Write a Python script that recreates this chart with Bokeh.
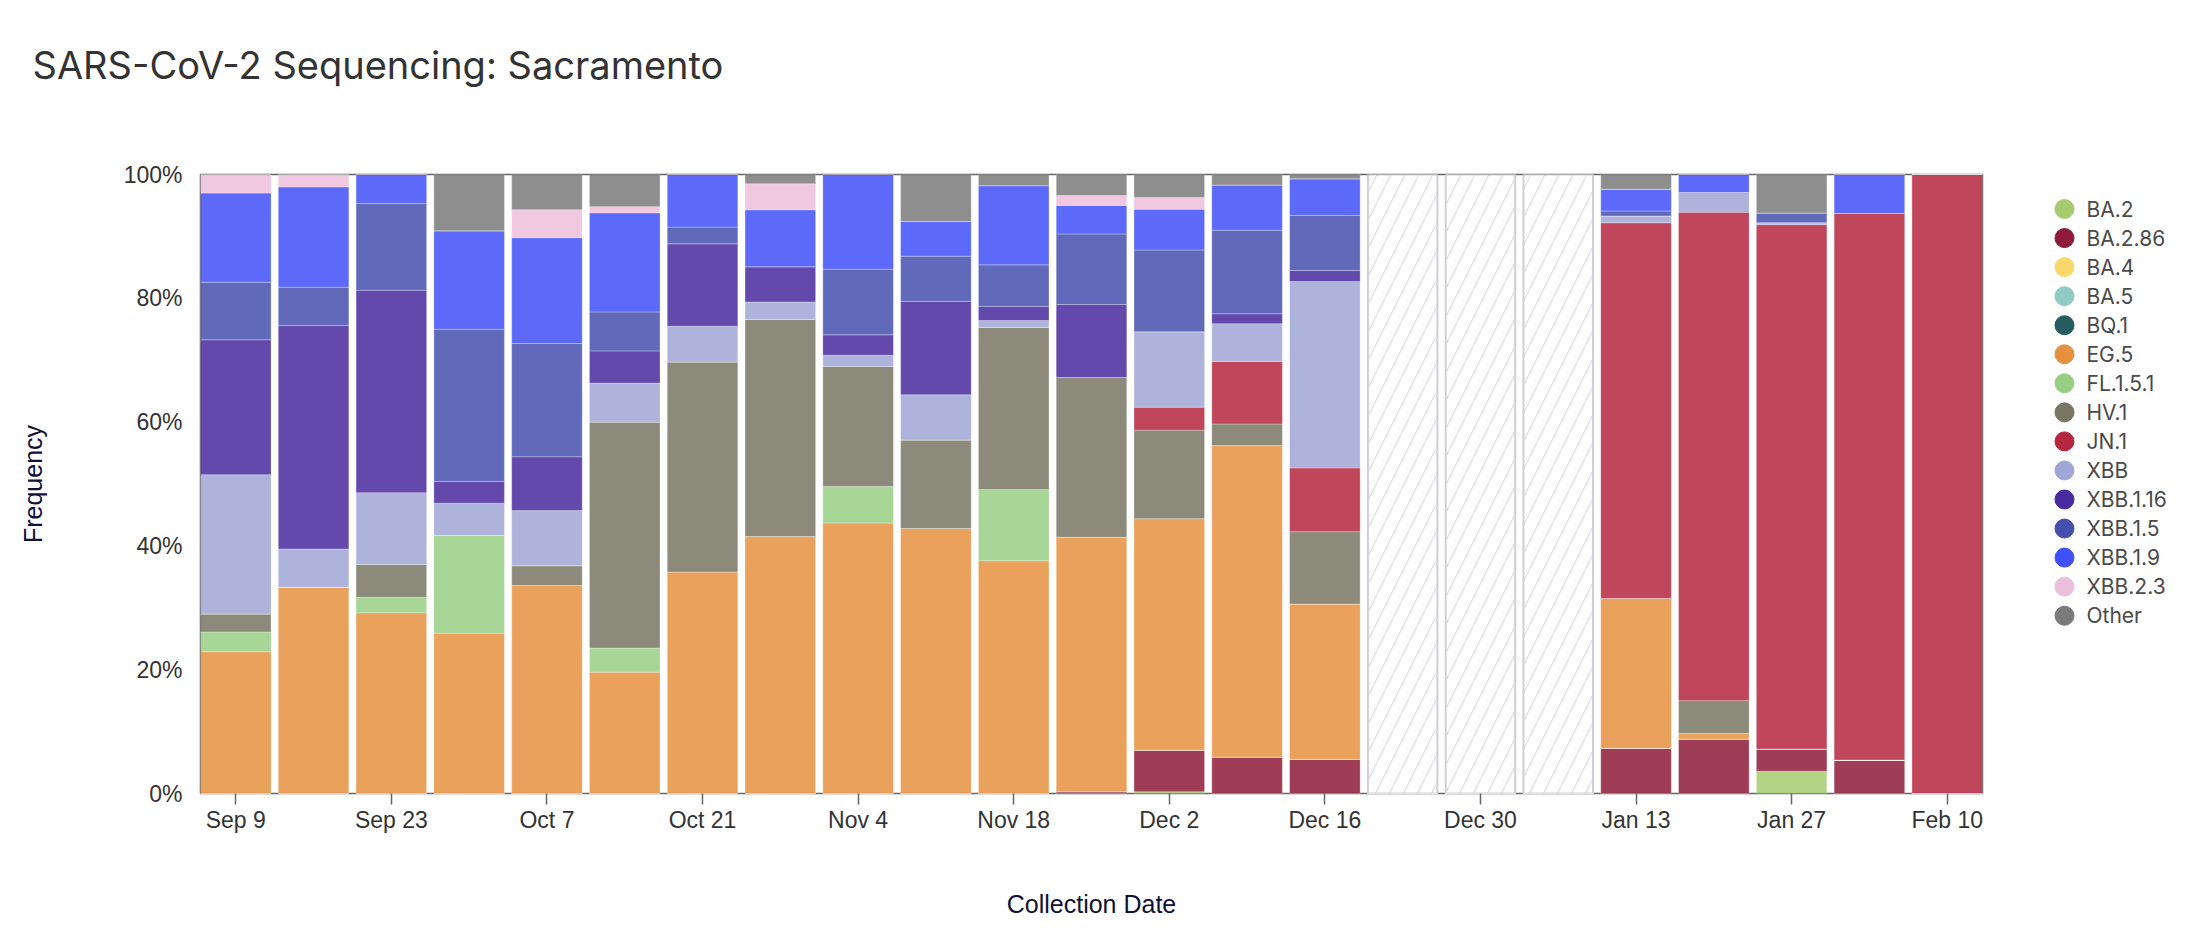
import pandas as pd
from bokeh.plotting import figure
from bokeh.layouts import row
from bokeh.models import (ColumnDataSource, Range1d, FixedTicker, PrintfTickFormatter,
                          DatetimeTickFormatter, Title)
from bokeh.core.properties import value
from bokeh.embed import file_html
from bokeh.resources import INLINE

# ---------------- data ----------------
dates = ["2023-09-09", "2023-09-16", "2023-09-23", "2023-09-30", "2023-10-07", "2023-10-14",
         "2023-10-21", "2023-10-28", "2023-11-04", "2023-11-11", "2023-11-18", "2023-11-25",
         "2023-12-02", "2023-12-09", "2023-12-16", "2023-12-23", "2023-12-30", "2024-01-06",
         "2024-01-13", "2024-01-20", "2024-01-27", "2024-02-03", "2024-02-10"]
no_data_dates = ["2023-12-23", "2023-12-30", "2024-01-06"]
tick_dates = ["2023-09-09", "2023-09-23", "2023-10-07", "2023-10-21", "2023-11-04", "2023-11-18",
              "2023-12-02", "2023-12-16", "2023-12-30", "2024-01-13", "2024-01-27", "2024-02-10"]

lineages = ["BA.2", "BA.2.86", "BA.4", "BA.5", "BQ.1", "EG.5", "FL.1.5.1", "HV.1", "JN.1",
            "XBB", "XBB.1.16", "XBB.1.5", "XBB.1.9", "XBB.2.3", "Other"]
colors = ["#A6CC70", "#8E1B3A", "#F8D86A", "#8FCBC4", "#245C62", "#E6913F", "#98CF85", "#787563",
          "#B5263F", "#A0A6D6", "#48299E", "#4550AE", "#404FF8", "#EDBEDB", "#7A7A7A"]

BA_2     = [0, 0, 0, 0, 0, 0, 0, 0, 0, 0, 0, 0, 0.3, 0, 0, 0, 0, 0, 0, 0, 3.6, 0, 0]
BA_2_86  = [0, 0, 0, 0, 0, 0, 0, 0, 0, 0, 0, 0.3, 6.7, 5.9, 5.5, 0, 0, 0, 7.3, 8.8, 3.6, 5.4, 0]
BA_4     = [0] * 23
BA_5     = [0] * 23
BQ_1     = [0] * 23
EG_5     = [22.9, 33.3, 29.2, 25.9, 33.6, 19.6, 35.8, 41.5, 43.7, 42.8, 37.6, 41.1, 37.4, 50.3, 25.1,
            0, 0, 0, 24.2, 0.9, 0, 0, 0]
FL_1_5_1 = [3.2, 0, 2.5, 15.8, 0, 3.9, 0, 0, 5.9, 0, 11.5, 0, 0, 0, 0, 0, 0, 0, 0, 0, 0, 0, 0]
HV_1     = [2.9, 0, 5.3, 0, 3.2, 36.5, 33.9, 35.1, 19.4, 14.3, 26.2, 25.8, 14.3, 3.5, 11.7,
            0, 0, 0, 0, 5.3, 0, 0, 0]
JN_1     = [0, 0, 0, 0, 0, 0, 0, 0, 0, 0, 0, 0, 3.7, 10.1, 10.3, 0, 0, 0, 60.7, 78.9, 84.7, 88.3, 100]
XBB      = [22.5, 6.2, 11.6, 5.2, 8.9, 6.3, 5.8, 2.8, 1.8, 7.3, 1.1, 0, 12.2, 6.1, 30.1,
            0, 0, 0, 1.1, 3.2, 0.3, 0, 0]
XBB_1_16 = [21.8, 36.1, 32.7, 3.5, 8.7, 5.2, 13.3, 5.7, 3.3, 15.1, 2.3, 11.8, 0, 1.6, 1.8,
            0, 0, 0, 0, 0, 0, 0, 0]
XBB_1_5  = [9.3, 6.2, 14.0, 24.6, 18.3, 6.3, 2.7, 0, 10.6, 7.3, 6.7, 11.4, 13.2, 13.5, 8.9,
            0, 0, 0, 0.8, 0, 1.6, 0, 0]
XBB_1_9  = [14.4, 16.2, 4.7, 15.9, 17.1, 16.0, 8.5, 9.2, 15.4, 5.6, 12.8, 4.6, 6.6, 7.3, 5.9,
            0, 0, 0, 3.5, 2.9, 0, 6.3, 0]
XBB_2_3  = [3.0, 2.0, 0, 0, 4.5, 1.0, 0, 4.2, 0, 0, 0, 1.6, 1.9, 0, 0, 0, 0, 0, 0, 0, 0, 0, 0]
Other    = [0, 0, 0, 9.1, 5.7, 5.2, 0, 1.5, 0, 7.6, 1.8, 3.4, 3.7, 1.7, 0.7, 0, 0, 0, 2.4, 0, 6.2, 0, 0]

series = [BA_2, BA_2_86, BA_4, BA_5, BQ_1, EG_5, FL_1_5_1, HV_1, JN_1,
          XBB, XBB_1_16, XBB_1_5, XBB_1_9, XBB_2_3, Other]

# ---------------- main figure ----------------
DAY = 86400000.0
bar_w = 6.35 * DAY
x = pd.to_datetime(dates)
data = {"date": x}
for name, vals in zip(lineages, series):
    data[name] = vals
src = ColumnDataSource(data)

x0 = pd.Timestamp(dates[0]).value / 1e6 - bar_w / 2
x1 = pd.Timestamp(dates[-1]).value / 1e6 + bar_w / 2

H = 925
TOP, BOTTOM = 174, 132
MAIN_W, LEG_W = 1998, 190

p = figure(width=MAIN_W, height=H, output_backend="svg", toolbar_location=None,
           x_range=Range1d(x0, x1), y_range=Range1d(0, 100),
           min_border_left=200, min_border_right=16, min_border_top=TOP,
           min_border_bottom=BOTTOM)
p.background_fill_color = "white"
p.border_fill_color = "white"
p.outline_line_color = "#666666"
p.outline_line_width = 1.5
p.xgrid.visible = False
p.ygrid.visible = False

p.title = Title(text="SARS-CoV-2 Sequencing: Sacramento\n ", align="left", offset=-168,
                vertical_align="top", standoff=78, text_font="Inter", text_font_size="38px",
                text_font_style="normal", text_color="#333333")

p.vbar_stack(lineages, x="date", width=bar_w, source=src, color=colors,
             fill_alpha=0.85, line_color="white", line_alpha=0.35, line_width=0.8)

p.vbar(x=pd.to_datetime(no_data_dates), top=100, bottom=0, width=bar_w * 0.985,
       fill_color="white", line_color="#cfcfd6", line_width=2,
       hatch_pattern="/", hatch_color="#d6d6da", hatch_scale=28, hatch_weight=1)

# axes
xa = p.xaxis[0]
xa.ticker = FixedTicker(ticks=[pd.Timestamp(d).value / 1e6 for d in tick_dates])
fmt = "%b %-d"
xa.formatter = DatetimeTickFormatter(microseconds=fmt, milliseconds=fmt, seconds=fmt,
                                     minsec=fmt, minutes=fmt, hourmin=fmt, hours=fmt,
                                     days=fmt, months=fmt, years=fmt)
xa.axis_line_color = None
xa.major_tick_line_color = "#666666"
xa.major_tick_line_width = 1.5
xa.major_tick_in = 0
xa.major_tick_out = 11
xa.minor_tick_line_color = None
xa.major_label_standoff = 2
xa.major_label_text_font = "Liberation Sans"
xa.major_label_text_font_size = "23px"
xa.major_label_text_color = "#333333"
xa.axis_label = "Collection Date"
xa.axis_label_text_font = "Liberation Sans"
xa.axis_label_text_font_size = "25px"
xa.axis_label_text_font_style = "normal"
xa.axis_label_text_color = "#101038"
xa.axis_label_standoff = 54

ya = p.yaxis[0]
ya.ticker = FixedTicker(ticks=[0, 20, 40, 60, 80, 100])
ya.formatter = PrintfTickFormatter(format="%d%%")
ya.axis_line_color = None
ya.major_tick_line_color = None
ya.major_tick_in = 0
ya.major_tick_out = 0
ya.minor_tick_line_color = None
ya.major_label_standoff = 18
ya.major_label_text_font = "Liberation Sans"
ya.major_label_text_font_size = "23px"
ya.major_label_text_color = "#333333"
ya.axis_label = "Frequency"
ya.axis_label_text_font = "Liberation Sans"
ya.axis_label_text_font_size = "25px"
ya.axis_label_text_font_style = "normal"
ya.axis_label_text_color = "#101038"
ya.axis_label_standoff = 74

# ---------------- legend figure (page-pixel coordinates) ----------------
lg = figure(width=LEG_W, height=H, output_backend="svg", toolbar_location=None,
            x_range=Range1d(MAIN_W, MAIN_W + LEG_W), y_range=Range1d(H - BOTTOM, TOP),
            x_axis_location=None, y_axis_location=None,
            min_border_left=0, min_border_right=0,
            min_border_top=TOP, min_border_bottom=BOTTOM)
lg.outline_line_color = None
lg.xgrid.visible = False
lg.ygrid.visible = False
n = len(lineages)
leg_y = [208.5 + 29.05 * i for i in range(n)]
leg_src = ColumnDataSource(dict(x=[2064] * n, tx=[2086] * n, y=leg_y,
                                label=lineages, color=colors))
lg.scatter(x="x", y="y", size=19, marker="circle", fill_color="color", line_color="color",
           source=leg_src)
lg.text(x="tx", y="y", text="label", source=leg_src, text_font=value("Inter"),
        text_font_size="21px", text_color="#4a4a4a", text_baseline="middle", text_align="left")

layout = row(p, lg, spacing=0)
open("out.html", "w").write(file_html(layout, INLINE))
